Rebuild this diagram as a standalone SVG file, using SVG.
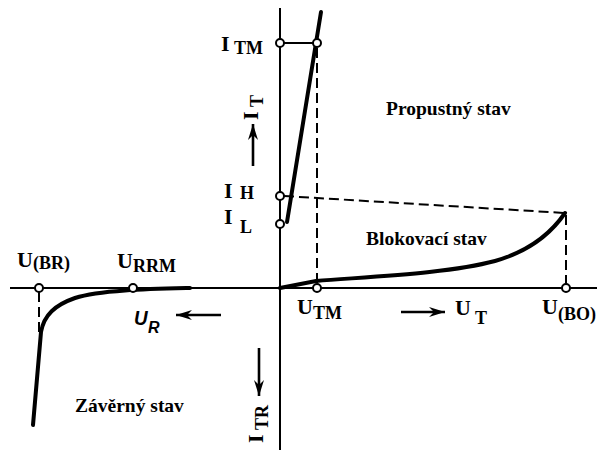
<svg xmlns="http://www.w3.org/2000/svg" width="616" height="450" viewBox="0 0 616 450">
<style>
.t{font-family:"Liberation Serif","Times New Roman",serif;font-weight:bold;fill:#000}
.m{font-size:22px}
.s{font-size:18px}
.st{font-size:19.5px}
.ax{stroke:#000;stroke-width:2;fill:none}
.cv{stroke:#000;stroke-width:4;fill:none;stroke-linecap:round}
.ds{stroke:#000;stroke-width:2;fill:none;stroke-dasharray:10 5}
.pt{stroke:#000;stroke-width:2;fill:#fff}
.ar{stroke:#000;stroke-width:2.6;fill:none}
</style>
<defs>
<marker id="ah" markerUnits="userSpaceOnUse" markerWidth="18" markerHeight="12" refX="16" refY="5" orient="auto">
<path d="M0,0 L16,5 L0,10 L5,5 z" fill="#000"/>
</marker>
</defs>
<rect width="616" height="450" fill="#fff"/>
<g id="axes">
<line class="ax" x1="280" y1="8" x2="280" y2="450"/>
<line class="ax" x1="10" y1="288" x2="597" y2="288"/>
</g>
<g id="connectors">
<line class="ax" x1="280" y1="43" x2="317" y2="43"/>
<line class="ds" x1="317" y1="48" x2="317" y2="284"/>
<line class="ds" x1="284" y1="196" x2="565" y2="213"/>
<line class="ds" x1="566" y1="215" x2="566" y2="284"/>
<line class="ds" x1="39" y1="292" x2="39" y2="332"/>
<line class="ar" x1="253" y1="166" x2="253" y2="124" marker-end="url(#ah)"/>
<line class="ar" x1="259" y1="348" x2="259" y2="396" marker-end="url(#ah)"/>
<line class="ar" x1="221" y1="315" x2="176" y2="315" marker-end="url(#ah)"/>
<line class="ar" x1="401" y1="312" x2="445" y2="312" marker-end="url(#ah)"/>
</g>
<g id="curves">
<path class="cv" d="M287,222 L321,12"/>
<path class="cv" d="M280,288 L316,281 C380,276 450,273 495,261 C530,251 552,232 565,213"/>
<path class="cv" d="M190,288 C150,289 100,290 75,298 C55,305 44,315 41,332 L33,425"/>
</g>
<g id="points">
<circle class="pt" cx="280" cy="43" r="4"/>
<circle class="pt" cx="317" cy="43" r="4"/>
<circle class="pt" cx="280" cy="196" r="4"/>
<circle class="pt" cx="280" cy="224" r="4"/>
<circle class="pt" cx="317" cy="288" r="4"/>
<circle class="pt" cx="566" cy="288" r="4"/>
<circle class="pt" cx="39" cy="288" r="4"/>
<circle class="pt" cx="133" cy="288" r="4"/>
</g>
<g id="labels">
<g id="ITM"><text class="t m" x="221" y="51">I</text><text class="t s" x="234" y="54">TM</text></g>
<g id="IH"><text class="t m" x="224" y="198">I</text><text class="t s" x="240" y="199">H</text></g>
<g id="IL"><text class="t m" x="224" y="224">I</text><text class="t s" x="240" y="233">L</text></g>
<g id="IT" transform="translate(258,120) rotate(-90)"><text class="t m" x="0" y="0">I</text><text class="t s" x="13" y="5">T</text></g>
<g id="ITR" transform="translate(263,443) rotate(-90)"><text class="t m" x="0" y="0">I</text><text class="t s" x="13" y="5">TR</text></g>
<g id="UBR"><text class="t m" x="17" y="267">U</text><text class="t s" x="33" y="269">(BR)</text></g>
<g id="URRM"><text class="t m" x="117" y="268">U</text><text class="t s" x="133" y="272">RRM</text></g>
<g id="UR"><text x="134" y="325" font-family="Liberation Sans, Arial, sans-serif" font-style="italic" font-weight="bold" font-size="21" transform="translate(134,0) scale(0.9,1) translate(-134,0)">U</text><text x="148" y="333" font-family="Liberation Sans, Arial, sans-serif" font-style="italic" font-weight="bold" font-size="16">R</text></g>
<g id="UTM"><text class="t m" x="297" y="314">U</text><text class="t s" x="313" y="319">TM</text></g>
<g id="UT"><text class="t m" x="455" y="315">U</text><text class="t s" x="475" y="324">T</text></g>
<g id="UBO"><text class="t m" x="542" y="314">U</text><text class="t s" x="558" y="320">(BO)</text></g>
<text id="propustny" class="t st" x="386" y="115">Propustný stav</text>
<text id="blokovaci" class="t st" x="366" y="245">Blokovací stav</text>
<text id="zaverny" class="t st" x="75" y="412" font-size="21">Závěrný stav</text>
</g>
</svg>
